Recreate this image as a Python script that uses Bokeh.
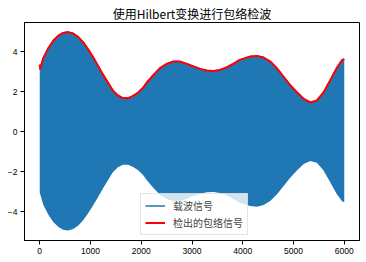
from bokeh.plotting import figure
from bokeh.models import FixedTicker, Legend, LegendItem, Range1d
from bokeh.embed import file_html
from bokeh.resources import INLINE

# sample positions
x_pts = [0, 70, 170, 270, 370, 460, 560, 660, 760, 860, 950, 1050, 1150, 1250, 1350,
         1440, 1540, 1640, 1740, 1840, 1940, 2040, 2110, 2240, 2370, 2500, 2630, 2760,
         2900, 3030, 3160, 3290, 3420, 3550, 3680, 3810, 3940, 4060, 4150, 4280, 4410,
         4540, 4670, 4800, 4930, 5070, 5200, 5330, 5460, 5590, 5720, 5850, 5960, 5999]
# upper edge of carrier band
carrier_high = [3.08, 3.67, 4.17, 4.55, 4.8, 4.93, 4.97, 4.9, 4.72, 4.45, 4.12, 3.72, 3.28,
                2.83, 2.42, 2.05, 1.8, 1.67, 1.67, 1.78, 1.95, 2.2, 2.45, 2.83, 3.17, 3.38,
                3.5, 3.5, 3.38, 3.25, 3.13, 3.05, 3.03, 3.08, 3.2, 3.38, 3.58, 3.68, 3.75,
                3.78, 3.7, 3.5, 3.17, 2.75, 2.33, 1.95, 1.63, 1.45, 1.55, 1.95, 2.55, 3.17,
                3.58, 3.62]
# lower edge of carrier band
carrier_low = [-3.05, -3.66, -4.16, -4.54, -4.78, -4.91, -4.95, -4.88, -4.7, -4.43, -4.1,
               -3.7, -3.27, -2.82, -2.41, -2.04, -1.79, -1.66, -1.66, -1.77, -1.94, -2.19,
               -2.44, -2.82, -3.16, -3.37, -3.48, -3.48, -3.36, -3.23, -3.11, -3.04, -3.02,
               -3.07, -3.19, -3.37, -3.56, -3.66, -3.73, -3.76, -3.68, -3.48, -3.15, -2.74,
               -2.32, -1.94, -1.63, -1.47, -1.56, -1.95, -2.53, -3.13, -3.5, -3.53]
# detected envelope (with Hilbert edge hook at start)
env_x = [0, 10] + x_pts[1:]
env_y = [3.35, 3.12] + carrier_high[1:]

x_ticks = [0, 1000, 2000, 3000, 4000, 5000, 6000]
y_ticks = [-4, -2, 0, 2, 4]

title = "使用Hilbert变换进行包络检波"
lbl_carrier = "载波信号"
lbl_env = "检出的包络信号"

p = figure(width=366, height=262, output_backend="svg", toolbar_location=None,
           x_range=Range1d(-300, 6299), y_range=Range1d(-5.45, 5.45),
           min_border_left=24, min_border_right=7, min_border_top=22, min_border_bottom=22)
p.title.text = title
p.title.align = "center"
p.title.text_font = "Noto Sans CJK SC"
p.title.text_font_size = "12px"
p.title.text_font_style = "normal"
p.title.text_color = "#000000"
p.title.standoff = 2

p.background_fill_color = "white"
p.border_fill_color = "white"
p.outline_line_color = "black"
p.outline_line_alpha = 1
p.xgrid.visible = False
p.ygrid.visible = False

for ax in (p.xaxis, p.yaxis):
    ax.major_tick_in = 0
    ax.major_tick_out = 4
    ax.minor_tick_line_color = None
    ax.axis_line_color = "black"
    ax.major_tick_line_color = "black"
    ax.major_label_text_font = "Liberation Sans"
    ax.major_label_text_font_size = "8.5px"
    ax.major_label_text_color = "#000000"
p.xaxis.ticker = FixedTicker(ticks=x_ticks)
p.yaxis.ticker = FixedTicker(ticks=y_ticks)
p.xaxis.major_label_standoff = 3
p.yaxis.major_label_standoff = 3

p.varea(x=x_pts, y1=carrier_low, y2=carrier_high, fill_color="#1f77b4", fill_alpha=1)
r_carrier = p.line(x_pts, carrier_high, line_color="#1f77b4", line_width=1.5)
r_env = p.line(env_x, env_y, line_color="#ff0000", line_width=2)

legend = Legend(items=[LegendItem(label=lbl_carrier, renderers=[r_carrier]),
                       LegendItem(label=lbl_env, renderers=[r_env])],
                location=(116, 5))
legend.label_text_font = "Noto Sans CJK SC"
legend.label_text_font_size = "10px"
legend.label_height = 13
legend.glyph_height = 13
legend.glyph_width = 20
legend.spacing = 2
legend.padding = 4
legend.margin = 0
legend.label_standoff = 8
legend.border_line_color = "#cccccc"
legend.background_fill_alpha = 0.8
p.add_layout(legend, "center")

open("out.html", "w").write(file_html(p, INLINE))
